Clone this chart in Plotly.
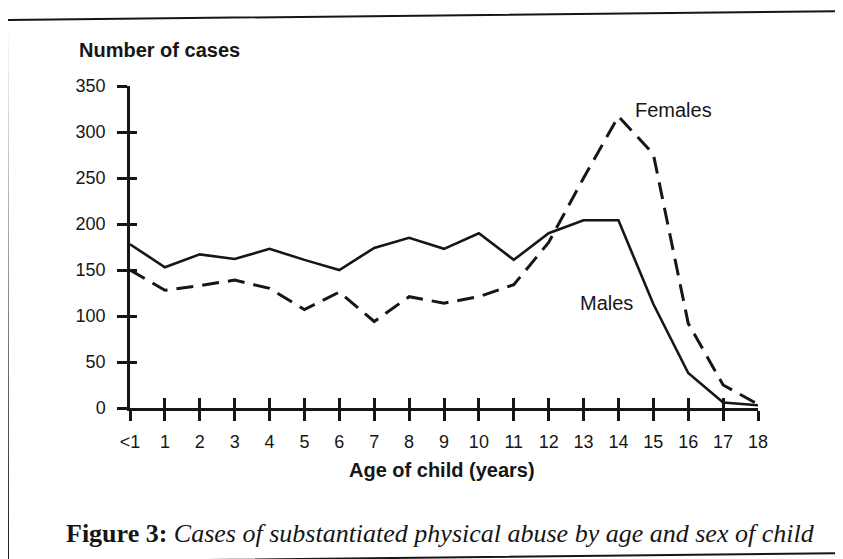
import plotly.graph_objects as go

ages = ["<1", "1", "2", "3", "4", "5", "6", "7", "8", "9", "10", "11", "12", "13", "14", "15", "16", "17", "18"]
males = [178, 153, 167, 162, 173, 161, 150, 174, 185, 173, 190, 161, 190, 204, 204, 113, 38, 6, 3]
females = [150, 128, 133, 139, 130, 107, 126, 94, 121, 114, 121, 134, 180, 250, 317, 276, 92, 25, 4]
y_ticks = [0, 50, 100, 150, 200, 250, 300, 350]

W, H = 843, 559
OFF = 8  # page body margin in the browser
# plot area in screen pixels
SX0, SX1, SY0, SY1 = 130, 758, 86, 408
L, T = SX0 - OFF, SY0 - OFF
R, B = W - (SX1 - OFF), H - (SY1 - OFF)
pw, ph = SX1 - SX0, SY1 - SY0


def px(x):
    return (x - SX0) / pw


def py(y):
    return (SY1 - y) / ph


xs = list(range(len(ages)))
INK = "#161616"
SANS = "Liberation Sans, Arial, Helvetica, sans-serif"

fig = go.Figure()
fig.add_trace(go.Scatter(x=xs, y=males, mode="lines", name="Males",
                         line=dict(color=INK, width=2.6), cliponaxis=False))
fig.add_trace(go.Scatter(x=xs, y=females, mode="lines", name="Females",
                         line=dict(color=INK, width=3, dash="17px,9px"), cliponaxis=False))
fig.add_trace(go.Scatter(x=[None], y=[None], xaxis="x2", yaxis="y2", showlegend=False,
                         hoverinfo="skip"))

axis_common = dict(showgrid=False, zeroline=False, showline=True, linecolor=INK,
                   linewidth=2.5, tickcolor=INK, tickwidth=2.5)

fig.update_layout(
    width=W, height=H,
    margin=dict(l=L, r=R, t=T, b=B, pad=0),
    paper_bgcolor="white", plot_bgcolor="white",
    showlegend=False,
    font=dict(family=SANS, size=18, color=INK),
    xaxis=dict(range=[0, len(ages) - 1], tickmode="array", tickvals=xs, ticktext=ages,
               ticks="outside", ticklen=10, ticklabelstandoff=6,
               tickfont=dict(family=SANS, size=18, color=INK), **axis_common),
    yaxis=dict(range=[0, 350], tickmode="array", tickvals=y_ticks,
               ticks="outside", ticklen=10, ticklabelstandoff=8,
               tickfont=dict(family=SANS, size=18, color=INK), **axis_common),
    xaxis2=dict(overlaying="x", anchor="y", side="bottom", range=[0, len(ages) - 1],
                tickmode="array", tickvals=xs, ticks="inside", ticklen=10,
                showticklabels=False, **axis_common),
    yaxis2=dict(overlaying="y", anchor="x", side="left", range=[0, 350],
                tickmode="array", tickvals=y_ticks, ticks="inside", ticklen=7,
                showticklabels=False, **axis_common),
)

ann = [
    dict(text="<b>Number of cases</b>", x=px(77), y=py(50), xanchor="left", yanchor="middle",
         font=dict(family=SANS, size=20, color=INK)),
    dict(text="Females", x=px(633), y=py(110), xanchor="left", yanchor="middle",
         font=dict(family=SANS, size=20, color=INK)),
    dict(text="Males", x=px(578), y=py(303), xanchor="left", yanchor="middle",
         font=dict(family=SANS, size=20, color=INK)),
    dict(text="<b>Age of child (years)</b>", x=px(442), y=py(470), xanchor="center",
         yanchor="middle", font=dict(family=SANS, size=20, color=INK)),
    dict(text="<b>Figure 3:</b> <i>Cases of substantiated physical abuse by age and sex of child</i>",
         x=px(440), y=py(533), xanchor="center", yanchor="middle",
         font=dict(family="Liberation Serif, Times New Roman, serif", size=26, color=INK)),
]
for a in ann:
    a.update(xref="paper", yref="paper", showarrow=False)
fig.update_layout(annotations=ann)

# framing box of the figure
path = (f"M {px(7)},{py(20)} L {px(860)},{py(11)} "
        f"M {px(7)},{py(20)} L {px(8)},{py(570)} "
        f"M {px(8)},{py(562)} L {px(860)},{py(553)}")
fig.add_shape(type="path", path=path, xref="paper", yref="paper",
              line=dict(color=INK, width=2))

fig.write_html("out.html")
